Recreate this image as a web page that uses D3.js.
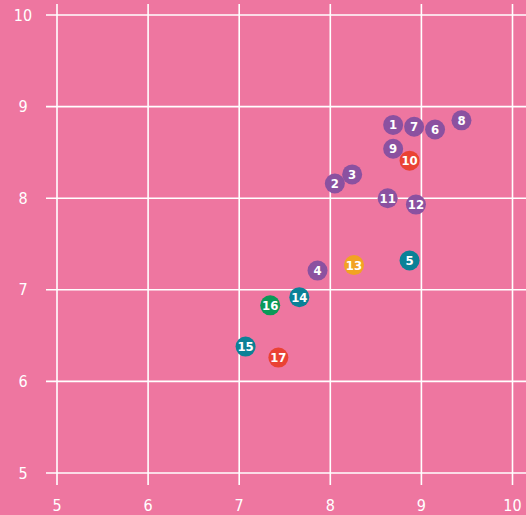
<!DOCTYPE html>
<html>
<head>
<meta charset="utf-8">
<script src="https://cdn.jsdelivr.net/npm/d3@7"></script>
<style>
  body { margin: 0; background: #ee76a0; }
  svg { display: block; }
  text { font-family: "DejaVu Sans Condensed", "DejaVu Sans", sans-serif; font-stretch: condensed; }
</style>
</head>
<body>
<div id="viz"></div>
<script>
// data
const ids  = [1, 2, 3, 4, 5, 6, 7, 8, 9, 10, 11, 12, 13, 14, 15, 16, 17]
const xVal = [8.69, 8.05, 8.24, 7.86, 8.87, 9.15, 8.92, 9.44, 8.69, 8.87, 8.63, 8.94, 8.26, 7.66, 7.07, 7.34, 7.43]
const yVal = [8.80, 8.16, 8.26, 7.21, 7.32, 8.75, 8.78, 8.85, 8.54, 8.41, 8.00, 7.93, 7.27, 6.92, 6.38, 6.83, 6.26]
const group = ["p", "p", "p", "p", "t", "p", "p", "p", "p", "r", "p", "p", "o", "t", "t", "g", "r"]
const ticks = [5, 6, 7, 8, 9, 10]

const colors = { p: "#8b51a0", r: "#ea4234", t: "#0b8197", o: "#f2a323", g: "#0a9a58" }

let width = 526, height = 515

let svg = d3.select("#viz")
  .append("svg")
    .attr("width", width)
    .attr("height", height)

let data = ids.map((id, i) => ({ id: id, x: xVal[i], y: yVal[i], g: group[i] }))

// scales
let xScale = d3.scaleLinear().domain([5, 10]).range([57, 512.5])
let yScale = d3.scaleLinear().domain([5, 10]).range([473, 15])

// grid
svg.append("g")
  .selectAll("line")
  .data(ticks)
  .join("line")
    .attr("x1", d => xScale(d))
    .attr("x2", d => xScale(d))
    .attr("y1", 4)
    .attr("y2", 485)
    .attr("stroke", "#fff")
    .attr("stroke-width", 1.6)

svg.append("g")
  .selectAll("line")
  .data(ticks)
  .join("line")
    .attr("x1", 46)
    .attr("x2", width)
    .attr("y1", d => yScale(d))
    .attr("y2", d => yScale(d))
    .attr("stroke", "#fff")
    .attr("stroke-width", 1.6)

// tick labels
svg.append("g")
  .selectAll("text")
  .data(ticks)
  .join("text")
    .attr("x", 23)
    .attr("y", d => yScale(d) + 5.5)
    .attr("text-anchor", "middle")
    .attr("fill", "#fff")
    .attr("font-size", 16)
    .text(d => d)

svg.append("g")
  .selectAll("text")
  .data(ticks)
  .join("text")
    .attr("x", d => xScale(d))
    .attr("y", 511)
    .attr("text-anchor", "middle")
    .attr("fill", "#fff")
    .attr("font-size", 16)
    .text(d => d)

// points
let pts = svg.append("g")
  .selectAll("g")
  .data(data)
  .join("g")
    .attr("transform", d => `translate(${xScale(d.x)},${yScale(d.y)})`)

pts.append("circle")
  .attr("r", 10)
  .attr("fill", d => colors[d.g])

pts.append("text")
  .attr("text-anchor", "middle")
  .attr("dy", 4.5)
  .attr("fill", "#fff")
  .attr("font-size", 13)
  .attr("font-weight", "bold")
  .text(d => d.id)
</script>
</body>
</html>
